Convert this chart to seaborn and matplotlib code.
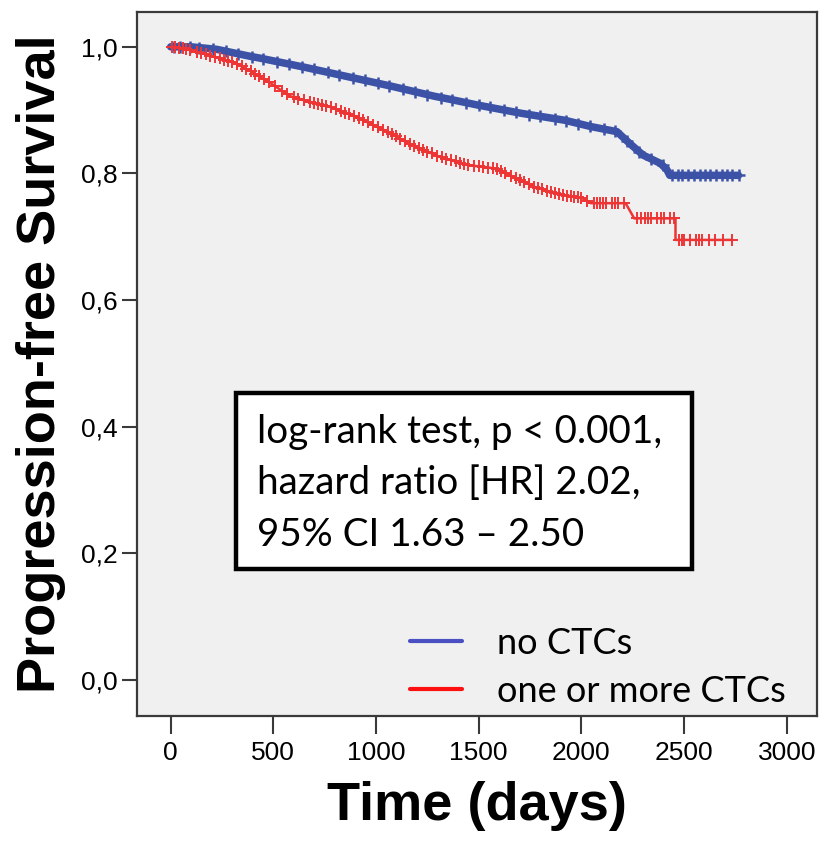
import numpy as np
import pandas as pd
import matplotlib
matplotlib.use("Agg")
import matplotlib.pyplot as plt
import seaborn as sns
from matplotlib.lines import Line2D
from matplotlib.patches import Rectangle
from matplotlib.ticker import FuncFormatter

# ---------------- data ----------------
groups = ["no CTCs", "one or more CTCs"]

no_ctc_days = [0, 100, 225, 387, 437, 648, 874, 1072, 1283, 1361, 1495, 1707,
               1919, 2046, 2173, 2236, 2300, 2384, 2416, 2430, 2765]
no_ctc_surv = [1.0, 1.0, 0.996, 0.985, 0.982, 0.968, 0.952, 0.938, 0.922, 0.917,
               0.908, 0.895, 0.884, 0.874, 0.866, 0.847, 0.829, 0.816, 0.806,
               0.797, 0.797]

ctc_days = [0, 60, 118, 225, 310, 387, 437, 484, 582, 679, 777, 874, 971, 1068,
            1166, 1312, 1452, 1580, 1665, 1770, 1876, 2003, 2046, 2215, 2257,
            2458, 2458, 2734]
ctc_surv = [1.0, 0.998, 0.993, 0.983, 0.975, 0.962, 0.952, 0.943, 0.922, 0.913,
            0.905, 0.893, 0.879, 0.864, 0.846, 0.826, 0.813, 0.808, 0.795,
            0.779, 0.768, 0.761, 0.753, 0.753, 0.729, 0.729, 0.695, 0.695]

# censoring times (+ marks)
no_ctc_censor = [15, 45, 95, 140, 205, 270, 330, 395, 450, 520, 575, 640, 700,
                 765, 820, 890, 945, 1010, 1065, 1130, 1190, 1250, 1315, 1370,
                 1440, 1500, 1555, 1625, 1680, 1745, 1800, 1870, 1925, 1985,
                 2040, 2110, 2165, 2220, 2280, 2340, 2395, 2440, 2468, 2492,
                 2520, 2548, 2575, 2602, 2628, 2655, 2683, 2707, 2733, 2765]
ctc_censor = [5, 22, 40, 58, 75, 96, 130, 150, 170, 192, 215, 238, 260, 281,
              300, 322, 345, 368, 390, 412, 430, 455, 480, 510, 540, 566, 600,
              622, 650, 676, 700, 718, 735, 758, 780, 805, 830, 850, 870, 893,
              915, 938, 960, 985, 1010, 1035, 1060, 1078, 1095, 1118, 1140,
              1163, 1185, 1208, 1230, 1250, 1270, 1296, 1320, 1342, 1365,
              1388, 1410, 1430, 1450, 1476, 1500, 1522, 1545, 1568, 1590,
              1610, 1630, 1655, 1680, 1700, 1720, 1745, 1770, 1790, 1810,
              1830, 1850, 1870, 1890, 1910, 1930, 1948, 1965, 1983, 2000,
              2025, 2060, 2075, 2090, 2105, 2120, 2150, 2165, 2180, 2205,
              2270, 2290, 2310, 2325, 2340, 2370, 2385, 2400, 2430, 2452,
              2475, 2490, 2500, 2530, 2560, 2572, 2585, 2620, 2650, 2690,
              2734]

x_ticks = [0, 500, 1000, 1500, 2000, 2500, 3000]
y_ticks = [0.0, 0.2, 0.4, 0.6, 0.8, 1.0]

stats_lines = ["log-rank test, p < 0.001,",
               "hazard ratio [HR] 2.02,",
               "95% CI 1.63 \u2013 2.50"]

# ---------------- style ----------------
sns.set_theme(style="ticks")
plt.rcParams["font.family"] = ["Liberation Sans", "DejaVu Sans"]
plt.rcParams["text.color"] = "black"
plt.rcParams["axes.labelcolor"] = "black"

BLUE = "#3b52a6"
RED = "#ee3535"
LEG_BLUE = "#4a50c2"
LEG_RED = "#ff1010"
AXC = "#3a3a3a"

fig = plt.figure(figsize=(8.19, 8.41), dpi=100)
ax = fig.add_axes([137 / 819, 1 - 716 / 841, 680 / 819, 704 / 841])
ax.set_facecolor("#f0f0f0")

df_blue = pd.DataFrame({"days": no_ctc_days, "surv": no_ctc_surv})
df_red = pd.DataFrame({"days": ctc_days, "surv": ctc_surv})

sns.lineplot(data=df_blue, x="days", y="surv", color=BLUE, linewidth=5.4,
             sort=False, estimator=None, ax=ax, legend=False)
sns.lineplot(data=df_red, x="days", y="surv", color=RED, linewidth=1.8,
             sort=False, estimator=None, ax=ax, legend=False)


def surv_at(t, days, surv):
    # value on the drawn curve (last value for duplicated times)
    d = np.asarray(days, float)
    s = np.asarray(surv, float)
    idx = np.searchsorted(d, t, side="right") - 1
    if idx >= len(d) - 1:
        return s[-1]
    if d[idx + 1] == d[idx]:
        return s[idx + 1]
    return np.interp(t, d, s)


cb = pd.DataFrame({"days": no_ctc_censor,
                   "surv": [surv_at(t, no_ctc_days, no_ctc_surv) for t in no_ctc_censor]})
cr = pd.DataFrame({"days": ctc_censor,
                   "surv": [surv_at(t, ctc_days, ctc_surv) for t in ctc_censor]})

sns.scatterplot(data=cb, x="days", y="surv", marker="+", s=80, color=BLUE,
                linewidth=1.8, ax=ax, legend=False, zorder=3)
sns.scatterplot(data=cr, x="days", y="surv", marker="+", s=65, color=RED,
                linewidth=1.4, ax=ax, legend=False, zorder=3)

ax.set_xlim(-164, 3147)
ax.set_ylim(-0.057, 1.055)
ax.set_xticks(x_ticks)
ax.set_yticks(y_ticks)
ax.yaxis.set_major_formatter(FuncFormatter(lambda v, p: f"{v:.1f}".replace(".", ",")))
ax.tick_params(axis="both", direction="out", color=AXC, width=1.5,
               labelsize=19, labelcolor="black")
ax.tick_params(axis="x", length=13, pad=5)
ax.tick_params(axis="y", length=11, pad=3)

for sp in ax.spines.values():
    sp.set_visible(True)
    sp.set_color(AXC)
    sp.set_linewidth(1.6)

ax.set_xlabel("Time (days)", fontsize=39, fontweight="bold", color="black")
ax.set_ylabel("Progression-free Survival", fontsize=39, fontweight="bold",
              color="black")
ax.xaxis.set_label_coords(0.5, -0.092)
ax.yaxis.set_label_coords(-0.105, 0.5)

# stats box
ax.add_patch(Rectangle((0.1456, 0.2088), 0.816 - 0.1456, 0.4588 - 0.2088,
                       transform=ax.transAxes, facecolor="white",
                       edgecolor="black", linewidth=3.2, zorder=4))
for line, yy in zip(stats_lines, [0.3878, 0.3153, 0.2419]):
    ax.text(0.176, yy, line, transform=ax.transAxes, fontsize=27.8,
            family=["Lato", "DejaVu Sans"], va="baseline", ha="left",
            color="black", zorder=5)

# legend
handles = [Line2D([0], [0], color=LEG_BLUE, lw=3.0),
           Line2D([0], [0], color=LEG_RED, lw=3.0)]
leg = ax.legend(handles, groups, loc="lower left", bbox_to_anchor=(0.401, 0.0117),
                frameon=False, borderpad=0, borderaxespad=0,
                handlelength=1.44, handletextpad=0.98, labelspacing=0.42,
                prop={"family": ["Lato", "DejaVu Sans"], "size": 26})
for t in leg.get_texts():
    t.set_color("black")

fig.savefig("out.png", dpi=100, facecolor="white")
